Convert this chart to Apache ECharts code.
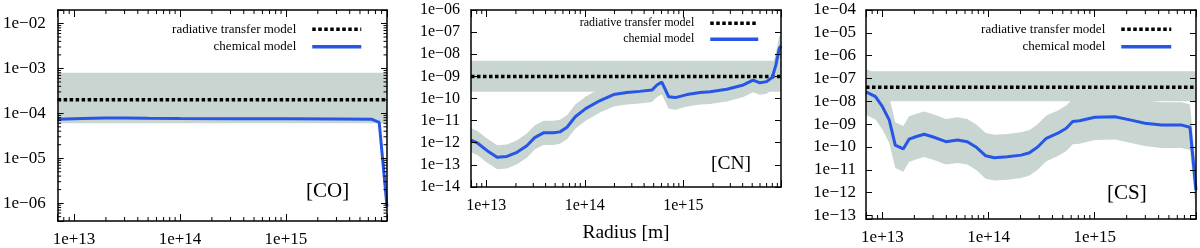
<!DOCTYPE html>
<html><head><meta charset="utf-8">
<script src="https://cdn.jsdelivr.net/npm/echarts@6/dist/echarts.min.js"></script>
<style>html,body{margin:0;padding:0;background:#fff}#c{width:1200px;height:248px}</style>
</head><body><div id="c"></div>
<script>
// ---------- axis ranges ----------
const X_RANGE_CO = [7e12, 9e15];
const X_RANGE_CN = [7e12, 9.8e15];
const X_RANGE_CS = [7e12, 9e15];
const Y_RANGE_CO = [4e-7, 2e-2];
const Y_RANGE_CN = [1e-14, 1e-6];
const Y_RANGE_CS = [7e-14, 1e-4];

// ---------- CO ----------
const CO_R    = [7e12, 1e13, 1.5e13, 2e13, 3e13, 5e13, 1e14, 3e14, 1e15, 3e15, 6.4e15, 7.6e15, 9e15];
const CO_CHEM = [7.4e-5, 7.6e-5, 7.8e-5, 7.9e-5, 7.9e-5, 7.8e-5, 7.7e-5, 7.6e-5, 7.6e-5, 7.5e-5, 7.4e-5, 6.3e-5, 8.4e-7];
const CO_RAD = 2e-4;
const CO_RAD_BAND = [6e-5, 8e-4];

// ---------- CN ----------
const CN_R = [7e12, 8.2e12, 1.02e13, 1.29e13, 1.62e13, 2.05e13, 2.58e13, 3.1e13, 3.8e13, 4.8e13, 5.6e13, 6.6e13, 8e13, 1.02e14, 1.43e14, 1.96e14, 2.67e14, 3.6e14, 4.8e14, 5.4e14, 6.05e14, 7.1e14, 8.3e14, 1.09e15, 1.48e15, 1.87e15, 2.76e15, 4.07e15, 5.1e15, 6e15, 7e15, 8e15, 8.7e15, 9.4e15, 9.8e15];
const CN_CHEM = [1.3e-12, 9.5e-13, 4.4e-13, 2.2e-13, 2.4e-13, 3.7e-13, 7.3e-13, 1.7e-12, 2.8e-12, 2.8e-12, 3.1e-12, 5e-12, 1.5e-11, 3.5e-11, 8.1e-11, 1.5e-10, 1.85e-10, 2.1e-10, 2.4e-10, 4.1e-10, 5.5e-10, 1.2e-10, 1.1e-10, 1.5e-10, 1.85e-10, 2e-10, 2.6e-10, 4.1e-10, 6.8e-10, 5.1e-10, 5.8e-10, 9.1e-10, 3.3e-9, 1.8e-8, 2.4e-8];
const CN_CHEM_LO = [3.7e-13, 2.7e-13, 1.26e-13, 6.3e-14, 6.9e-14, 1.06e-13, 2.1e-13, 4.9e-13, 8e-13, 8e-13, 8.9e-13, 1.43e-12, 4.3e-12, 1e-11, 2.3e-11, 4.3e-11, 5.3e-11, 6e-11, 6.9e-11, 1.17e-10, 1.57e-10, 3.4e-11, 3.1e-11, 4.3e-11, 5.3e-11, 5.7e-11, 7.4e-11, 1.17e-10, 1.94e-10, 1.46e-10, 1.66e-10, 2.6e-10, 9.4e-10, 5.1e-9, 6.9e-9];
const CN_CHEM_HI = [4.6e-12, 3.3e-12, 1.54e-12, 7.7e-13, 8.4e-13, 1.3e-12, 2.6e-12, 6e-12, 9.8e-12, 9.8e-12, 1.09e-11, 1.75e-11, 5.3e-11, 1.23e-10, 2.8e-10, 5.3e-10, 6.5e-10, 7.4e-10, 8.4e-10, 1.44e-9, 1.93e-9, 4.2e-10, 3.9e-10, 5.3e-10, 6.5e-10, 7e-10, 9.1e-10, 1.44e-9, 2.4e-9, 1.8e-9, 2e-9, 3.2e-9, 1.16e-8, 6.3e-8, 8.4e-8];
const CN_RAD = 1e-9;
const CN_RAD_BAND = [2e-10, 5.1e-9];

// ---------- CS ----------
const CS_R = [7e12, 8.6e12, 1e13, 1.16e13, 1.32e13, 1.57e13, 1.78e13, 2.06e13, 2.47e13, 2.96e13, 3.97e13, 5.1e13, 6.3e13, 7.6e13, 9.4e13, 1.13e14, 1.5e14, 2.03e14, 2.43e14, 2.9e14, 3.5e14, 4.5e14, 5.4e14, 6.2e14, 7.2e14, 1e15, 1.55e15, 2.2e15, 2.97e15, 4.27e15, 6.6e15, 7.9e15, 9e15];
const CS_CHEM = [2.6e-8, 1.6e-8, 5.8e-9, 1.5e-9, 1.2e-10, 8.2e-11, 2.2e-10, 2.8e-10, 3.6e-10, 2.8e-10, 1.7e-10, 2e-10, 1.7e-10, 1e-10, 4.1e-11, 3.4e-11, 3.7e-11, 4.4e-11, 5.6e-11, 1e-10, 2.4e-10, 4e-10, 6.6e-10, 1.3e-9, 1.4e-9, 2e-9, 2.1e-9, 1.5e-9, 1.1e-9, 9.1e-10, 9.1e-10, 7.3e-10, 1.3e-12];
const CS_CHEM_HI = [2.6e-7, 1.6e-7, 5.8e-8, 1.5e-8, 1.2e-9, 8.2e-10, 2.2e-9, 2.8e-9, 3.6e-9, 2.8e-9, 1.7e-9, 2e-9, 1.7e-9, 1e-9, 4.1e-10, 3.4e-10, 3.7e-10, 4.4e-10, 5.6e-10, 1e-9, 2.4e-9, 4e-9, 6.6e-9, 1.3e-8, 1.4e-8, 2e-8, 2.1e-8, 1.5e-8, 1.1e-8, 9.1e-9, 9.1e-9, 7.3e-9, 1.3e-11];
const CS_CHEM_LO = [2.6e-9, 1.6e-9, 5.8e-10, 1.5e-10, 1.2e-11, 8.2e-12, 2.2e-11, 2.8e-11, 3.6e-11, 2.8e-11, 1.7e-11, 2e-11, 1.7e-11, 1e-11, 4.1e-12, 3.4e-12, 3.7e-12, 4.4e-12, 5.6e-12, 1e-11, 2.4e-11, 4e-11, 6.6e-11, 1.3e-10, 1.4e-10, 2e-10, 2.1e-10, 1.5e-10, 1.1e-10, 9.1e-11, 9.1e-11, 7.3e-11, 1.3e-13];
const CS_RAD = 4.1e-8;
const CS_RAD_BAND = [1e-8, 2.1e-7];

// ---------- tick helpers ----------
const MINOR_MANTISSA = [2, 3, 4, 5, 6, 7, 8, 9];
const X_DECADES = [12, 13, 14, 15];
const Y_DECADES_CO = [-7, -6, -5, -4, -3, -2];

const NAMES = ['radiative transfer model', 'chemical model', 'chemial model'];
const LABELS = ['[CO]', '[CN]', '[CS]'];
const AXIS_NAME = 'Radius [m]';

const BLUE = '#2756e6';
const BAND = '#c9d5d1';
const FONT = 'Liberation Serif';

function sciLabel(v) {
  const l = Math.log10(v), e = Math.round(l);
  if (Math.abs(l - e) > 1e-6) return '';
  return '1e' + (e < 0 ? '\u2212' : '+') + String(Math.abs(e)).padStart(2, '0');
}
function minorValues(decades, range) {
  const out = [];
  decades.forEach(d => MINOR_MANTISSA.forEach(m => {
    const v = m * Math.pow(10, d);
    if (v > range[0] && v < range[1]) out.push(v);
  }));
  return out;
}

const grids = [], xAxes = [], yAxes = [], series = [];

function axisCommon(fs, margin, show, tickLen) {
  return {
    z: 10,
    axisLine: {show: true, onZero: false, lineStyle: {color: '#000', width: 1.5}},
    axisTick: {show: true, inside: true, length: tickLen, lineStyle: {color: '#000', width: 1}},
    axisLabel: {show: show, formatter: sciLabel, fontFamily: FONT, fontSize: fs, color: '#000', margin: margin},
    splitLine: {show: false},
    minorTick: {show: false}
  };
}

function addPanel(p) {
  const gi = grids.length;
  grids.push(p.grid);
  const xi = xAxes.length, yi = yAxes.length;
  xAxes.push(Object.assign({type: 'log', logBase: 10, gridIndex: gi, position: 'bottom', min: p.xr[0], max: p.xr[1]},
    axisCommon(p.fs, p.xMargin, true, 7), p.xName ? {name: p.xName, nameLocation: 'middle', nameGap: p.nameGap,
      nameTextStyle: {fontFamily: FONT, fontSize: p.nameFs, color: '#000'}} : {}));
  xAxes.push(Object.assign({type: 'log', logBase: 10, gridIndex: gi, position: 'top', min: p.xr[0], max: p.xr[1]},
    axisCommon(p.fs, 8, false, 7)));
  yAxes.push(Object.assign({type: 'log', logBase: 10, gridIndex: gi, position: 'left', min: p.yr[0], max: p.yr[1]},
    axisCommon(p.fs, p.yMargin, true, 6)));
  yAxes.push(Object.assign({type: 'log', logBase: 10, gridIndex: gi, position: 'right', min: p.yr[0], max: p.yr[1]},
    axisCommon(p.fs, 8, false, 6)));

  // bands
  series.push({
    type: 'custom', xAxisIndex: xi, yAxisIndex: yi, z: 1, silent: true,
    data: [[p.xr[0], p.radBand[0]]],
    renderItem: function (params, api) {
      const children = [];
      const rect = [[p.xr[0], p.radBand[0]], [p.xr[1], p.radBand[0]], [p.xr[1], p.radBand[1]], [p.xr[0], p.radBand[1]]]
        .map(q => api.coord(q));
      children.push({type: 'polygon', shape: {points: rect}, style: {fill: BAND}});
      if (p.lo) {
        const up = p.R.map((r, k) => api.coord([r, p.hi[k]]));
        const dn = p.R.map((r, k) => api.coord([r, p.lo[k]])).reverse();
        children.push({type: 'polygon', shape: {points: up.concat(dn)}, style: {fill: BAND}});
      }
      return {type: 'group', children: children};
    }
  });
  // radiative model
  series.push({
    type: 'line', name: NAMES[0], xAxisIndex: xi, yAxisIndex: yi, z: 3, symbol: 'none', legendIcon: 'none', silent: true,
    data: [[p.xr[0], p.rad], [p.xr[1], p.rad]],
    lineStyle: {color: '#000', width: 3.5, type: [3.5, 2.5], cap: 'butt'}, itemStyle: {color: '#000'}
  });
  // chemical model
  series.push({
    type: 'line', name: p.chemName, xAxisIndex: xi, yAxisIndex: yi, z: 4, symbol: 'none', legendIcon: 'none', silent: true,
    data: p.R.map((r, k) => [r, p.chem[k]]),
    lineStyle: {color: BLUE, width: 3}, itemStyle: {color: BLUE}
  });
  // minor x ticks
  series.push({
    type: 'custom', xAxisIndex: xi, yAxisIndex: yi, z: 12, silent: true,
    data: minorValues(X_DECADES, p.xr).map(v => [v, p.yr[0]]),
    renderItem: function (params, api) {
      const x = api.coord([api.value(0), api.value(1)])[0];
      const cs = params.coordSys, b = cs.y + cs.height;
      return {type: 'group', children: [
        {type: 'line', shape: {x1: x, y1: b, x2: x, y2: b - 4}, style: {stroke: '#000', lineWidth: 1}},
        {type: 'line', shape: {x1: x, y1: cs.y, x2: x, y2: cs.y + 4}, style: {stroke: '#000', lineWidth: 1}}
      ]};
    }
  });
  if (p.yMinorDecades) {
    series.push({
      type: 'custom', xAxisIndex: xi, yAxisIndex: yi, z: 12, silent: true,
      data: minorValues(p.yMinorDecades, p.yr).map(v => [p.xr[0], v]),
      renderItem: function (params, api) {
        const y = api.coord([api.value(0), api.value(1)])[1];
        const cs = params.coordSys, r = cs.x + cs.width;
        return {type: 'group', children: [
          {type: 'line', shape: {x1: cs.x, y1: y, x2: cs.x + 3.5, y2: y}, style: {stroke: '#000', lineWidth: 1}},
          {type: 'line', shape: {x1: r, y1: y, x2: r - 3.5, y2: y}, style: {stroke: '#000', lineWidth: 1}}
        ]};
      }
    });
  }
}

addPanel({grid: {left: 57, top: 10, width: 330, height: 211}, xr: X_RANGE_CO, yr: Y_RANGE_CO,
  R: CO_R, chem: CO_CHEM, rad: CO_RAD, radBand: CO_RAD_BAND, chemName: NAMES[1],
  fs: 17, xMargin: 10, yMargin: 12, yMinorDecades: Y_DECADES_CO});
addPanel({grid: {left: 471, top: 10, width: 310, height: 182.5}, xr: X_RANGE_CN, yr: Y_RANGE_CN,
  R: CN_R, chem: CN_CHEM, lo: CN_CHEM_LO, hi: CN_CHEM_HI, rad: CN_RAD, radBand: CN_RAD_BAND, chemName: NAMES[2],
  fs: 16, xMargin: 11, yMargin: 11, xName: AXIS_NAME, nameGap: 36, nameFs: 19.5});
addPanel({grid: {left: 866, top: 10, width: 330, height: 209}, xr: X_RANGE_CS, yr: Y_RANGE_CS,
  R: CS_R, chem: CS_CHEM, lo: CS_CHEM_LO, hi: CS_CHEM_HI, rad: CS_RAD, radBand: CS_RAD_BAND, chemName: NAMES[1],
  fs: 17, xMargin: 10, yMargin: 10});

function legend(names, right, top, gap, w, fs) {
  return {data: names, orient: 'vertical', align: 'right', right: right, top: top, itemWidth: w, itemHeight: 14,
    itemGap: gap, padding: 0, selectedMode: false, itemStyle: {opacity: 0}, lineStyle: {width: 3.5},
    textStyle: {fontFamily: FONT, fontSize: fs, color: '#000', padding: [0, 11, 0, 0], lineHeight: 14}};
}
function label(text, left, top, fs) {
  return {text: text, left: left, top: top, padding: 0,
    textStyle: {fontFamily: FONT, fontSize: fs, fontWeight: 'normal', color: '#000'}};
}

const chart = echarts.init(document.getElementById('c'), null, {renderer: 'canvas'});
chart.setOption({
  animation: false,
  backgroundColor: '#fff',
  grid: grids, xAxis: xAxes, yAxis: yAxes, series: series,
  legend: [
    legend([NAMES[0], NAMES[1]], 837, 22.3, 3.4, 49, 13),
    legend([NAMES[0], NAMES[2]], 440, 16.3, 2, 48, 12),
    legend([NAMES[0], NAMES[1]], 27, 22.3, 3.4, 50, 13)
  ],
  title: [
    label(LABELS[0], 306, 181, 21),
    label(LABELS[1], 711, 154, 19.5),
    label(LABELS[2], 1107, 183, 21)
  ]
});
</script></body></html>
